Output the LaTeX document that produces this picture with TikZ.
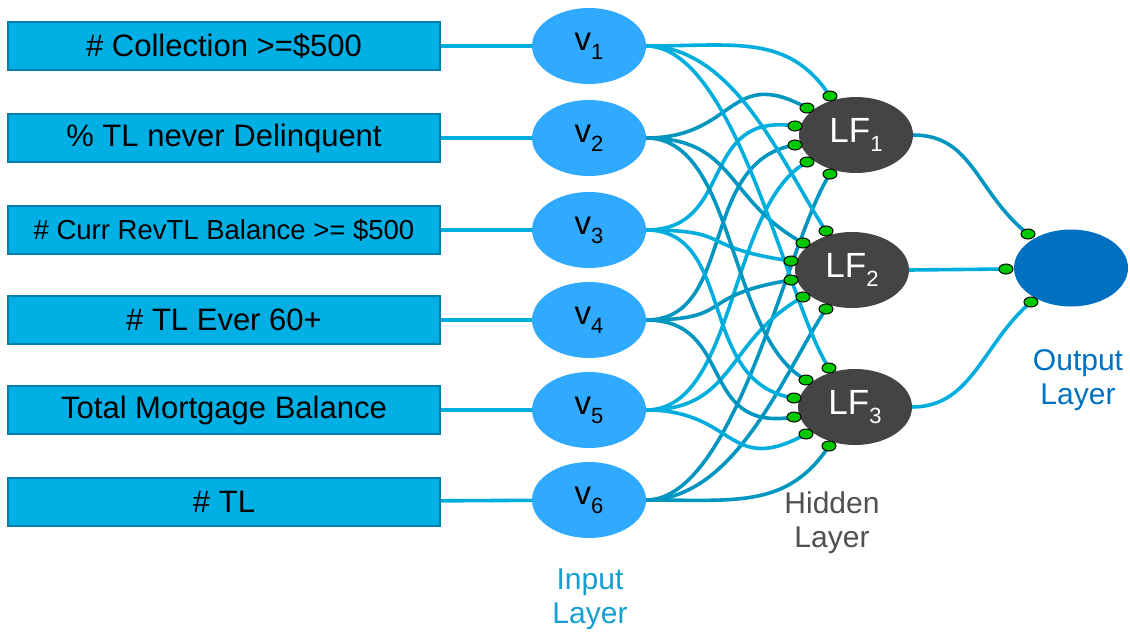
\documentclass[tikz,border=0pt]{standalone}
\usepackage{fontspec}
\setmainfont{Liberation Sans}
\usetikzlibrary{shapes.geometric,calc}
\definecolor{boxfill}{RGB}{0,176,228}
\definecolor{boxedge}{RGB}{0,128,168}
\definecolor{varfill}{RGB}{48,170,255}
\definecolor{hidfill}{RGB}{68,68,70}
\definecolor{outfill}{RGB}{0,112,192}
\definecolor{dotgreen}{RGB}{0,200,0}
\definecolor{lineA}{RGB}{0,174,222}
\definecolor{lineB}{RGB}{0,150,192}
\definecolor{inlab}{RGB}{20,158,210}
\definecolor{hidlab}{RGB}{80,80,80}
\pgfdeclarelayer{bg}
\pgfsetlayers{bg,main}
\newcommand\lowsub[2]{\raisebox{-#2}{\fontsize{22}{22}\selectfont #1}}
\tikzset{
  inbox/.style={draw=boxedge, fill=boxfill, line width=1.5pt, minimum width=432pt,
    minimum height=48pt, inner sep=0pt, text=black, font=\fontsize{31}{31}\selectfont},
  invar/.style={ellipse, fill=varfill, minimum width=114pt, minimum height=76pt,
    inner sep=0pt, font=\fontsize{33}{33}\selectfont},
  hidn/.style={ellipse, fill=hidfill, minimum width=114pt, minimum height=76pt,
    inner sep=0pt, text=white, font=\fontsize{35}{35}\selectfont},
  outn/.style={ellipse, fill=outfill, minimum width=114pt, minimum height=77pt, inner sep=0pt},
  gdot/.style={ellipse, draw=black, line width=1pt, fill=dotgreen, minimum width=14pt,
    minimum height=10pt, inner sep=0pt},
  link/.style={line width=3.6pt},
  feed/.style={line width=3.6pt, draw=lineA},
  laylab/.style={align=center, font=\fontsize{30}{34}\selectfont}
}
\begin{document}
\begin{tikzpicture}[x=1pt,y=-1pt]
\useasboundingbox (0,0) rectangle (1130,632);
% input boxes
\node[inbox] (b1) at (224,46) {\# Collection >=\$500};
\node[inbox] (b2) at (224,138) {\% TL never Delinquent};
\node[inbox, font=\fontsize{27.5}{27.5}\selectfont] (b3) at (224,230) {\# Curr RevTL Balance >= \$500};
\node[inbox] (b4) at (224,320) {\# TL Ever 60+};
\node[inbox] (b5) at (224,410) {Total Mortgage Balance};
\node[inbox] (b6) at (224,502) {\# TL};
% input variables
\node[invar] (v1) at (589,46) {v\lowsub{1}{9pt}};
\node[invar] (v2) at (589,138) {v\lowsub{2}{9pt}};
\node[invar] (v3) at (589,230) {v\lowsub{3}{9pt}};
\node[invar] (v4) at (589,320) {v\lowsub{4}{9pt}};
\node[invar] (v5) at (589,410) {v\lowsub{5}{9pt}};
\node[invar] (v6) at (589,500) {v\lowsub{6}{9pt}};
% hidden
\node[hidn] (h1) at (856,135) {LF\lowsub{1}{9pt}};
\node[hidn] (h2) at (852,270) {LF\lowsub{2}{9pt}};
\node[hidn] (h3) at (855,407) {LF\lowsub{3}{9pt}};
% output
\node[outn] (o) at (1071,268) {};
% dots on hidden nodes
\foreach \h in {1,2,3}{
  \foreach \i/\dx/\dy in {1/-26/-39,2/-49/-27,3/-61/-9,4/-61/10,5/-49/27,6/-26/39}{
    \node[gdot] (d\h-\i) at ($(h\h)+(\dx,\dy)$) {};
  }
}
\node[gdot] (od1) at ($(o)+(-43,-34)$) {};
\node[gdot] (od2) at ($(o)+(-65,1)$) {};
\node[gdot] (od3) at ($(o)+(-40,34)$) {};
% labels
\node[laylab, text=inlab] (linput) at (590,599) {Input\\Layer};
\node[laylab, text=hidlab] (lhidden) at (832,523) {Hidden\\Layer};
\node[laylab, text=outfill] (loutput) at (1078,380) {Output\\Layer};
\begin{pgfonlayer}{bg}
\foreach \i in {1,...,6}{ \draw[feed] (b\i) -- (v\i); }
\foreach \h in {1,2,3}{
  \foreach \i/\c in {1/lineA,2/lineB,3/lineA,4/lineB,5/lineA,6/lineB}{
    \draw[link, draw=\c] (v\i.east) .. controls +(90,0) and ($(h\h)!2.6!(d\h-\i)$) .. (d\h-\i.center);
  }
}
\draw[link, draw=lineB] (h1.east) .. controls +(60,0) and ($(o)!2.2!(od1)$) .. (od1.center);
\draw[link, draw=lineA] (h2.east) -- (od2.center);
\draw[link, draw=lineA] (h3.east) .. controls +(60,0) and ($(o)!2.2!(od3)$) .. (od3.center);
\end{pgfonlayer}
\end{tikzpicture}
\end{document}
